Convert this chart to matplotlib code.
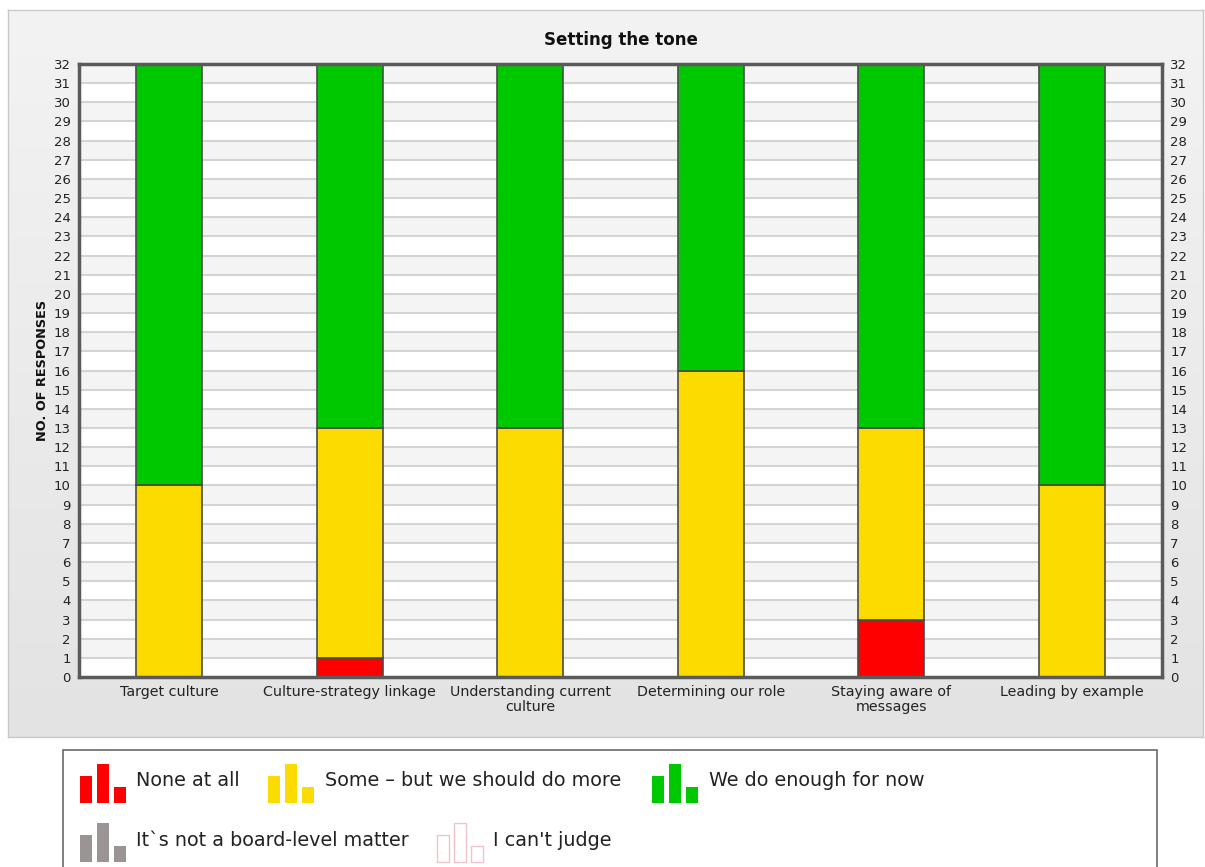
import numpy as np
import matplotlib
matplotlib.use("Agg")
import matplotlib.pyplot as plt
from matplotlib.patches import Rectangle

# ---- data ----
title = "Setting the tone"
categories = ["Target culture", "Culture-strategy linkage", "Understanding current\nculture",
              "Determining our role", "Staying aware of\nmessages", "Leading by example"]
series_names = ["None at all", "Some \u2013 but we should do more", "We do enough for now",
                "It\u02cbs not a board-level matter", "I can't judge"]
none_at_all = [0, 1, 0, 0, 3, 0]
some_more = [10, 12, 13, 16, 10, 10]
enough = [22, 19, 19, 16, 19, 22]
not_board = [0, 0, 0, 0, 0, 0]
cant_judge = [0, 0, 0, 0, 0, 0]
y_ticks = list(range(0, 33))
y_label = "NO. OF RESPONSES"

colors = ["#ff0000", "#fcdc00", "#00c800", "#9a9494", "#ffffff"]
edge_colors = ["#ff0000", "#fcdc00", "#00c800", "#9a9494", "#f0c4c8"]

W, H = 1205, 867
fig = plt.figure(figsize=(W / 100, H / 100), dpi=100)
fig.patch.set_facecolor("white")

def fx(px):
    return px / W

def fy(py):
    return 1 - py / H

# background panel with gradient
pan = fig.add_axes([fx(8), fy(737), fx(1195), (737 - 10) / H], zorder=0)
grad = np.linspace(0, 1, 256).reshape(-1, 1)
top_c = np.array([0.953, 0.953, 0.953])
bot_c = np.array([0.890, 0.890, 0.890])
img = top_c[None, None, :] * (1 - grad[:, :, None]) + bot_c[None, None, :] * grad[:, :, None]
pan.imshow(img, aspect="auto", extent=[0, 1, 0, 1], origin="upper")
pan.set_xlim(0, 1); pan.set_ylim(0, 1)
pan.set_xticks([]); pan.set_yticks([])
for s in pan.spines.values():
    s.set_color("#c8c8c8"); s.set_linewidth(1)

# main axes
ax = fig.add_axes([fx(79), fy(677), fx(1162 - 79), (677 - 64) / H], zorder=2)
ax.set_facecolor("white")
ymax = y_ticks[-1]
for k in range(1, ymax, 2):
    ax.axhspan(k, k + 1, color="#f4f4f4", zorder=0, lw=0)
for k in y_ticks[1:-1]:
    ax.axhline(k, color="#d4d4d4", lw=1.5, zorder=0.5)

x = np.arange(len(categories))
bw = 0.366
bottom = np.zeros(len(categories))
all_series = [none_at_all, some_more, enough, not_board, cant_judge]
for vals, c in zip(all_series, colors):
    vals = np.array(vals, dtype=float)
    mask = vals > 0
    ax.bar(x[mask], vals[mask], bw, bottom=bottom[mask], color=c,
           edgecolor="#4a4a4a", linewidth=1.2, zorder=2)
    bottom += vals

ax.set_xlim(-0.5, len(categories) - 0.5)
ax.set_ylim(0, ymax)
ax.set_yticks(y_ticks)
ax.set_yticklabels([str(t) for t in y_ticks], fontsize=9.5, color="#222222")
ax.set_xticks(x)
ax.set_xticklabels(categories, fontsize=10.3, color="#222222", linespacing=1.05)
ax.tick_params(axis="both", length=0, pad=6)
ax.tick_params(axis="y", right=True, labelright=True, pad=6)
for s in ax.spines.values():
    s.set_color("#5a5a5a"); s.set_linewidth(2.5); s.set_zorder(5)
ax.set_title(title, fontsize=12, fontweight="bold", color="#111111", pad=14)
fig.text(fx(43), fy(370), y_label, rotation=90, ha="center", va="center",
         fontsize=9.3, fontweight="bold", color="#111111")

# legend box
lg = fig.add_axes([0, 0, 1, 1], zorder=3)
lg.set_xlim(0, W); lg.set_ylim(H, 0)
lg.axis("off")
lg.add_patch(Rectangle((63, 750), 1157 - 63, 130, facecolor="white",
                       edgecolor="#6a6a6a", lw=1.2))

def icon(x0, yb, fc, ec, filled=True):
    widths = 12
    hts = [27, 39, 16]
    offs = [0, 17, 34]
    for o, h in zip(offs, hts):
        lg.add_patch(Rectangle((x0 + o, yb - h), widths, h,
                               facecolor=fc if filled else "none",
                               edgecolor=ec, lw=1.0 if not filled else 0))

legend_pos = [(80, 803, 136, 781), (268, 803, 325, 781), (652, 803, 709, 781),
              (80, 862, 136, 840), (437, 862, 493, 840)]
for i, (name, (ix, iyb, tx, ty)) in enumerate(zip(series_names, legend_pos)):
    icon(ix, iyb, colors[i], edge_colors[i], filled=(i != 4))
    lg.text(tx, ty, name, fontsize=13.8, color="#222222", va="center", ha="left")

fig.savefig("out.png", dpi=100)
